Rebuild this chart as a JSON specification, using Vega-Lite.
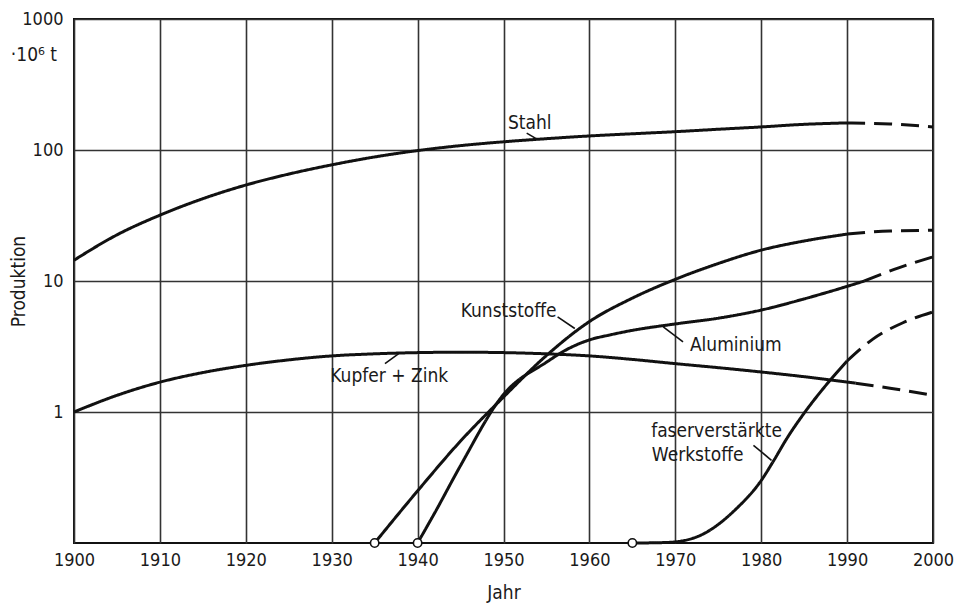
{
  "$schema": "https://vega.github.io/schema/vega-lite/v6.json",
  "width": 859,
  "height": 524,
  "autosize": {"type": "none"},
  "padding": {"left": 74, "top": 19, "right": 27, "bottom": 62},
  "background": "white",
  "config": {
    "view": {"stroke": "#111", "strokeWidth": 2},
    "axis": {
      "labelFont": "DejaVu Sans Condensed, sans-serif",
      "labelFontSize": 18,
      "labelColor": "#1a1a1a",
      "labelFlush": false,
      "labelOverlap": false,
      "titleFont": "DejaVu Sans Condensed, sans-serif",
      "titleFontSize": 19,
      "titleFontWeight": "normal",
      "titleColor": "#1a1a1a",
      "gridColor": "#333",
      "gridWidth": 1.6,
      "gridOpacity": 1,
      "tickSize": 0,
      "domain": false
    }
  },
  "datasets": {
    "curves": [
      {"series": "Stahl", "style": "solid", "year": 1900, "value": 14.4},
      {"series": "Stahl", "style": "solid", "year": 1905, "value": 22.5},
      {"series": "Stahl", "style": "solid", "year": 1910, "value": 31.8},
      {"series": "Stahl", "style": "solid", "year": 1915, "value": 42.5},
      {"series": "Stahl", "style": "solid", "year": 1920, "value": 54},
      {"series": "Stahl", "style": "solid", "year": 1925, "value": 65.5},
      {"series": "Stahl", "style": "solid", "year": 1930, "value": 77},
      {"series": "Stahl", "style": "solid", "year": 1935, "value": 88.5},
      {"series": "Stahl", "style": "solid", "year": 1940, "value": 99},
      {"series": "Stahl", "style": "solid", "year": 1945, "value": 108},
      {"series": "Stahl", "style": "solid", "year": 1950, "value": 115.5},
      {"series": "Stahl", "style": "solid", "year": 1955, "value": 122},
      {"series": "Stahl", "style": "solid", "year": 1960, "value": 128},
      {"series": "Stahl", "style": "solid", "year": 1965, "value": 133},
      {"series": "Stahl", "style": "solid", "year": 1970, "value": 138},
      {"series": "Stahl", "style": "solid", "year": 1975, "value": 144},
      {"series": "Stahl", "style": "solid", "year": 1980, "value": 150},
      {"series": "Stahl", "style": "solid", "year": 1985, "value": 157},
      {"series": "Stahl", "style": "solid", "year": 1990, "value": 161},
      {"series": "Stahl", "style": "dashed", "year": 1990, "value": 161},
      {"series": "Stahl", "style": "dashed", "year": 1995, "value": 158},
      {"series": "Stahl", "style": "dashed", "year": 2000, "value": 150},

      {"series": "Kupfer", "style": "solid", "year": 1900, "value": 1.0},
      {"series": "Kupfer", "style": "solid", "year": 1905, "value": 1.34},
      {"series": "Kupfer", "style": "solid", "year": 1910, "value": 1.69},
      {"series": "Kupfer", "style": "solid", "year": 1915, "value": 2.0},
      {"series": "Kupfer", "style": "solid", "year": 1920, "value": 2.27},
      {"series": "Kupfer", "style": "solid", "year": 1925, "value": 2.5},
      {"series": "Kupfer", "style": "solid", "year": 1930, "value": 2.68},
      {"series": "Kupfer", "style": "solid", "year": 1935, "value": 2.78},
      {"series": "Kupfer", "style": "solid", "year": 1940, "value": 2.84},
      {"series": "Kupfer", "style": "solid", "year": 1945, "value": 2.86},
      {"series": "Kupfer", "style": "solid", "year": 1950, "value": 2.84},
      {"series": "Kupfer", "style": "solid", "year": 1955, "value": 2.78},
      {"series": "Kupfer", "style": "solid", "year": 1960, "value": 2.68},
      {"series": "Kupfer", "style": "solid", "year": 1965, "value": 2.52},
      {"series": "Kupfer", "style": "solid", "year": 1970, "value": 2.34},
      {"series": "Kupfer", "style": "solid", "year": 1975, "value": 2.18},
      {"series": "Kupfer", "style": "solid", "year": 1980, "value": 2.02},
      {"series": "Kupfer", "style": "solid", "year": 1985, "value": 1.86},
      {"series": "Kupfer", "style": "solid", "year": 1991, "value": 1.66},
      {"series": "Kupfer", "style": "dashed", "year": 1991, "value": 1.66},
      {"series": "Kupfer", "style": "dashed", "year": 1995, "value": 1.52},
      {"series": "Kupfer", "style": "dashed", "year": 2000, "value": 1.34},

      {"series": "Kunststoffe", "style": "solid", "year": 1935, "value": 0.1},
      {"series": "Kunststoffe", "style": "solid", "year": 1940, "value": 0.25},
      {"series": "Kunststoffe", "style": "solid", "year": 1945, "value": 0.6},
      {"series": "Kunststoffe", "style": "solid", "year": 1950, "value": 1.3},
      {"series": "Kunststoffe", "style": "solid", "year": 1955, "value": 2.7},
      {"series": "Kunststoffe", "style": "solid", "year": 1960, "value": 4.9},
      {"series": "Kunststoffe", "style": "solid", "year": 1965, "value": 7.4},
      {"series": "Kunststoffe", "style": "solid", "year": 1970, "value": 10.3},
      {"series": "Kunststoffe", "style": "solid", "year": 1975, "value": 13.6},
      {"series": "Kunststoffe", "style": "solid", "year": 1980, "value": 17.2},
      {"series": "Kunststoffe", "style": "solid", "year": 1985, "value": 20.2},
      {"series": "Kunststoffe", "style": "solid", "year": 1990, "value": 22.8},
      {"series": "Kunststoffe", "style": "dashed", "year": 1990, "value": 22.8},
      {"series": "Kunststoffe", "style": "dashed", "year": 1995, "value": 24.1},
      {"series": "Kunststoffe", "style": "dashed", "year": 2000, "value": 24.4},

      {"series": "Aluminium", "style": "solid", "year": 1940, "value": 0.1},
      {"series": "Aluminium", "style": "solid", "year": 1942, "value": 0.17},
      {"series": "Aluminium", "style": "solid", "year": 1945, "value": 0.39},
      {"series": "Aluminium", "style": "solid", "year": 1950, "value": 1.36},
      {"series": "Aluminium", "style": "solid", "year": 1955, "value": 2.4},
      {"series": "Aluminium", "style": "solid", "year": 1957.5, "value": 3.03},
      {"series": "Aluminium", "style": "solid", "year": 1960, "value": 3.55},
      {"series": "Aluminium", "style": "solid", "year": 1962.5, "value": 3.89},
      {"series": "Aluminium", "style": "solid", "year": 1965, "value": 4.2},
      {"series": "Aluminium", "style": "solid", "year": 1970, "value": 4.7},
      {"series": "Aluminium", "style": "solid", "year": 1975, "value": 5.2},
      {"series": "Aluminium", "style": "solid", "year": 1980, "value": 6.0},
      {"series": "Aluminium", "style": "solid", "year": 1985, "value": 7.3},
      {"series": "Aluminium", "style": "solid", "year": 1990, "value": 9.1},
      {"series": "Aluminium", "style": "solid", "year": 1992, "value": 10.0},
      {"series": "Aluminium", "style": "dashed", "year": 1992, "value": 10.0},
      {"series": "Aluminium", "style": "dashed", "year": 1996, "value": 12.6},
      {"series": "Aluminium", "style": "dashed", "year": 2000, "value": 15.3},

      {"series": "Faser", "style": "solid", "year": 1965, "value": 0.1},
      {"series": "Faser", "style": "solid", "year": 1968, "value": 0.1005},
      {"series": "Faser", "style": "solid", "year": 1970, "value": 0.102},
      {"series": "Faser", "style": "solid", "year": 1973, "value": 0.115},
      {"series": "Faser", "style": "solid", "year": 1977, "value": 0.18},
      {"series": "Faser", "style": "solid", "year": 1980, "value": 0.3},
      {"series": "Faser", "style": "solid", "year": 1981.5, "value": 0.43},
      {"series": "Faser", "style": "solid", "year": 1983, "value": 0.63},
      {"series": "Faser", "style": "solid", "year": 1985, "value": 0.98},
      {"series": "Faser", "style": "solid", "year": 1987, "value": 1.45},
      {"series": "Faser", "style": "solid", "year": 1988.5, "value": 1.9},
      {"series": "Faser", "style": "solid", "year": 1990, "value": 2.45},
      {"series": "Faser", "style": "dashed", "year": 1990, "value": 2.45},
      {"series": "Faser", "style": "dashed", "year": 1993, "value": 3.6},
      {"series": "Faser", "style": "dashed", "year": 1996.5, "value": 4.8},
      {"series": "Faser", "style": "dashed", "year": 2000, "value": 5.8}
    ],
    "starts": [
      {"series": "Kunststoffe", "year": 1935, "value": 0.1},
      {"series": "Aluminium", "year": 1940, "value": 0.1},
      {"series": "Faser", "year": 1965, "value": 0.1}
    ],
    "leaders": [
      {"series": "Stahl", "year": 1952.7, "value": 134.6, "year2": 1953.9, "value2": 121},
      {"series": "Kunststoffe", "year": 1956.3, "value": 5.32, "year2": 1958.3, "value2": 4.34},
      {"series": "Aluminium", "year": 1968.6, "value": 4.46, "year2": 1970.9, "value2": 3.43},
      {"series": "Kupfer", "year": 1936.2, "value": 2.34, "year2": 1937.8, "value2": 2.79},
      {"series": "Faser", "year": 1979.1, "value": 0.557, "year2": 1981.2, "value2": 0.428}
    ],
    "labels": [
      {"label": "Stahl", "year": 1953.05, "value": 162},
      {"label": "Kunststoffe", "year": 1950.6, "value": 5.88},
      {"label": "Aluminium", "year": 1977.04, "value": 3.22},
      {"label": "Kupfer + Zink", "year": 1936.7, "value": 1.88},
      {"label": "faserverstärkte", "year": 1974.8, "value": 0.715},
      {"label": "Werkstoffe", "year": 1972.6, "value": 0.473}
    ],
    "unit": [
      {"label": "·10⁶ t", "year": 1900, "value": 531}
    ]
  },
  "encoding": {
    "x": {
      "field": "year",
      "type": "quantitative",
      "scale": {"domain": [1900, 2000], "nice": false, "zero": false},
      "axis": {
        "title": "Jahr",
        "values": [1900, 1910, 1920, 1930, 1940, 1950, 1960, 1970, 1980, 1990, 2000],
        "format": "d",
        "labelPadding": 8,
        "titlePadding": 14,
        "grid": true
      }
    },
    "y": {
      "field": "value",
      "type": "quantitative",
      "scale": {"type": "log", "domain": [0.1, 1000], "nice": false},
      "axis": {
        "title": "Produktion",
        "values": [1, 10, 100, 1000],
        "format": "d",
        "labelPadding": 11,
        "titleX": -56,
        "titleY": 262,
        "titleAngle": -90,
        "titleBaseline": "middle",
        "titleAlign": "center",
        "grid": true
      }
    }
  },
  "layer": [
    {
      "data": {"name": "curves"},
      "mark": {"type": "line", "interpolate": "monotone", "color": "#111", "strokeWidth": 3, "strokeCap": "butt"},
      "encoding": {
        "detail": {"field": "series", "type": "nominal"},
        "strokeDash": {
          "field": "style",
          "type": "nominal",
          "scale": {"domain": ["solid", "dashed"], "range": [[1, 0], [18, 9]]},
          "legend": null
        }
      }
    },
    {
      "data": {"name": "leaders"},
      "mark": {"type": "rule", "color": "#111", "strokeWidth": 1.6},
      "encoding": {
        "x2": {"field": "year2"},
        "y2": {"field": "value2"}
      }
    },
    {
      "data": {"name": "starts"},
      "mark": {"type": "point", "filled": true, "fill": "white", "stroke": "#111", "strokeWidth": 1.6, "size": 70, "opacity": 1, "clip": false}
    },
    {
      "data": {"name": "labels"},
      "mark": {"type": "text", "font": "DejaVu Sans Condensed, sans-serif", "fontSize": 19, "color": "#1a1a1a", "align": "center", "baseline": "middle"},
      "encoding": {"text": {"field": "label"}}
    },
    {
      "data": {"name": "unit"},
      "mark": {"type": "text", "font": "DejaVu Sans Condensed, sans-serif", "fontSize": 19, "color": "#1a1a1a", "align": "right", "baseline": "middle", "dx": -17, "clip": false},
      "encoding": {"text": {"field": "label"}}
    }
  ]
}
